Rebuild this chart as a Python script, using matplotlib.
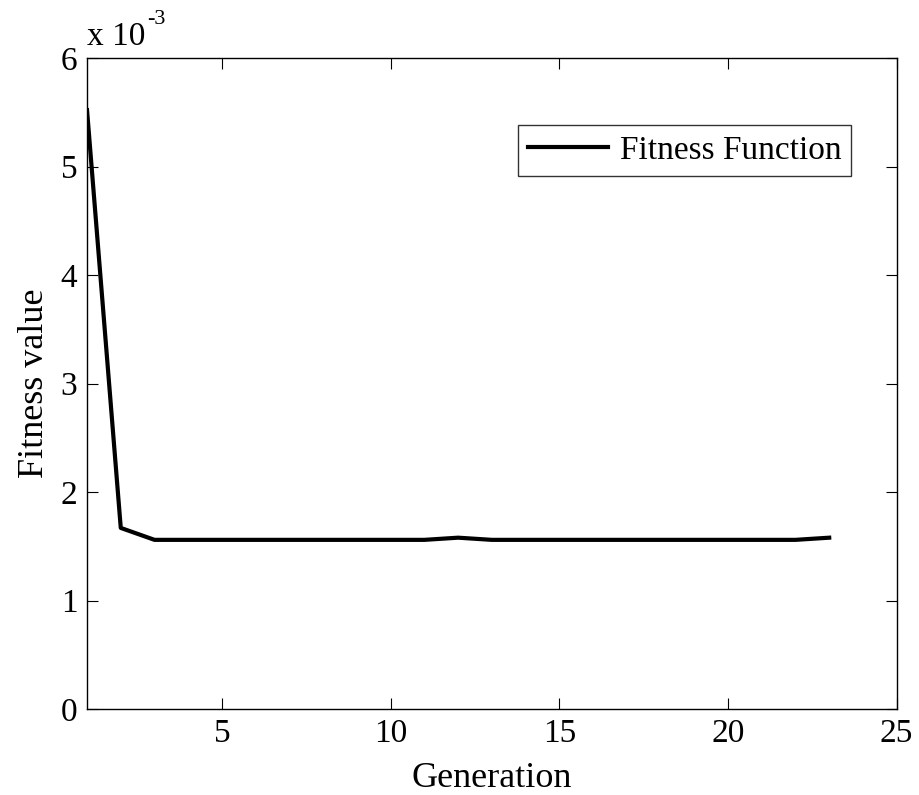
import matplotlib
matplotlib.use("Agg")
import matplotlib.pyplot as plt
from matplotlib.ticker import FuncFormatter

plt.rcParams['font.family'] = ['Liberation Serif', 'DejaVu Serif']

generation = list(range(1, 24))
fitness = [5.52e-3, 1.67e-3, 1.56e-3, 1.56e-3, 1.56e-3, 1.56e-3, 1.56e-3, 1.56e-3,
           1.56e-3, 1.56e-3, 1.56e-3, 1.58e-3, 1.56e-3, 1.56e-3, 1.56e-3, 1.56e-3,
           1.56e-3, 1.56e-3, 1.56e-3, 1.56e-3, 1.56e-3, 1.56e-3, 1.58e-3]
xticks = [5, 10, 15, 20, 25]
yticks = [0, 1e-3, 2e-3, 3e-3, 4e-3, 5e-3, 6e-3]

fig = plt.figure(figsize=(9.19, 7.95), dpi=100)
ax = fig.add_axes([0.0947, 0.108, 0.881, 0.819])

ax.plot(generation, fitness, color='black', linewidth=3, label='Fitness Function')

ax.set_xlim(1, 25)
ax.set_ylim(0, 6e-3)
ax.set_xticks(xticks)
ax.set_yticks(yticks)
ax.yaxis.set_major_formatter(FuncFormatter(lambda v, p: '%g' % round(v * 1e3, 6)))
ax.tick_params(direction='in', length=8, width=0.8, top=True, right=True,
               labelsize=24, pad=7)
for s in ax.spines.values():
    s.set_linewidth(1.0)

ax.set_xlabel('Generation', fontsize=26, labelpad=9)
ax.set_ylabel('Fitness value', fontsize=26, labelpad=7)

# exponent label in the top-left corner, MATLAB style
ax.text(0.0, 1.01, 'x 10', transform=ax.transAxes,
        fontsize=24, ha='left', va='bottom')
ax.text(0.074, 1.044, '-3', transform=ax.transAxes,
        fontsize=16, ha='left', va='bottom')

leg = ax.legend(loc='upper right', bbox_to_anchor=(0.944, 0.897), fontsize=24,
                frameon=True, fancybox=False, edgecolor='black',
                handlelength=2.4, handletextpad=0.35, borderpad=0.3,
                borderaxespad=0)
leg.get_frame().set_linewidth(1.0)

fig.savefig('out.png', dpi=100)
